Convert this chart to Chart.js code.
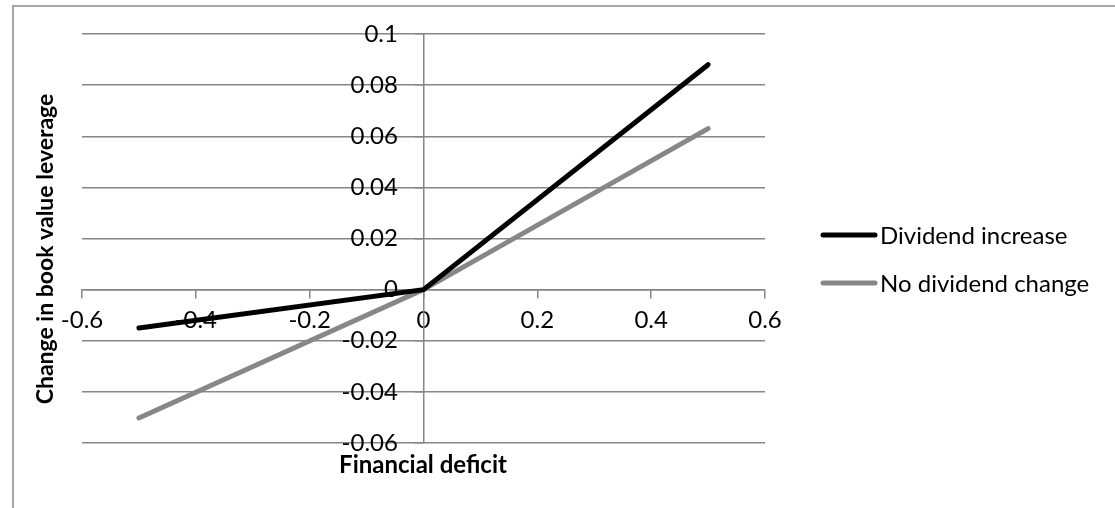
<!DOCTYPE html>
<html lang="en">
<head>
    <meta charset="UTF-8">
    <title>Change in book value leverage</title>
    <script src="https://cdn.jsdelivr.net/npm/chart.js"></script>
    <style>
        body { margin: 0; background: #fff; }
        .frame { position: absolute; left: 12px; top: 5px; width: 1200px; height: 600px; border-left: 2px solid #a6a6a6; border-top: 2px solid #a6a6a6; }
    </style>
</head>
<body>
    <div class="frame"></div>
    <canvas id="chart" width="1115" height="508" style="position:absolute;left:0;top:0"></canvas>
    <script>
        // data
        var deficit = [-0.5, 0, 0.5];
        var dividendIncrease = [-0.015, 0, 0.088];
        var noDividendChange = [-0.0502, 0, 0.063];
        var seriesNames = ['Dividend increase', 'No dividend change'];
        var xTitle = 'Financial deficit';
        var yTitle = 'Change in book value leverage';

        var FONT = 'Lato, "Liberation Sans", sans-serif';

        function pts(ys) {
            return deficit.map(function (x, i) { return { x: x, y: ys[i] }; });
        }

        // legend + axis titles drawn by hand, Excel style
        var extras = {
            id: 'extras',
            afterDraw: function (chart) {
                var c = chart.ctx;
                c.save();
                c.fillStyle = '#000';
                c.textAlign = 'center';
                c.textBaseline = 'middle';
                c.font = 'bold 24px ' + FONT;
                c.fillText(xTitle, 423, 465);
                c.font = 'bold 23px ' + FONT;
                c.translate(46, 249);
                c.rotate(-Math.PI / 2);
                c.fillText(yTitle, 0, 0);
                c.restore();

                c.save();
                c.font = '24px ' + FONT;
                c.textBaseline = 'middle';
                chart.data.datasets.forEach(function (ds, i) {
                    var y = 235 + i * 48;
                    c.strokeStyle = ds.borderColor;
                    c.lineWidth = ds.borderWidth;
                    c.lineCap = 'round';
                    c.beginPath();
                    c.moveTo(823, y);
                    c.lineTo(875, y);
                    c.stroke();
                    c.fillStyle = '#000';
                    c.fillText(ds.label, 880, y + 1);
                });
                c.restore();
            }
        };

        var fmt = function (v) { return String(+v.toFixed(2)); };
        var tickFont = { size: 24, family: FONT };

        new Chart(document.getElementById('chart'), {
            type: 'scatter',
            data: {
                datasets: [{
                    label: seriesNames[0],
                    data: pts(dividendIncrease),
                    showLine: true,
                    borderColor: '#000000',
                    backgroundColor: '#000000',
                    borderWidth: 5,
                    borderCapStyle: 'round',
                    pointRadius: 0
                }, {
                    label: seriesNames[1],
                    data: pts(noDividendChange),
                    showLine: true,
                    borderColor: '#878787',
                    backgroundColor: '#878787',
                    borderWidth: 5,
                    borderCapStyle: 'round',
                    pointRadius: 0
                }]
            },
            options: {
                responsive: false,
                animation: false,
                layout: { padding: { left: 82, right: 350, top: 34, bottom: 65 } },
                plugins: { legend: { display: false }, tooltip: { enabled: false } },
                scales: {
                    x: {
                        type: 'linear',
                        position: { y: 0 },
                        min: -0.6, max: 0.6,
                        ticks: { stepSize: 0.2, callback: fmt, color: '#000', font: tickFont, maxRotation: 0, padding: 8 },
                        grid: { drawOnChartArea: false, drawTicks: true, tickLength: 8, color: '#868686', lineWidth: 1.5 },
                        border: { color: '#868686', width: 1.5 }
                    },
                    y: {
                        type: 'linear',
                        position: { x: 0 },
                        min: -0.06, max: 0.1,
                        ticks: { display: false, stepSize: 0.02 },
                        grid: { drawOnChartArea: true, drawTicks: true, tickLength: 8, color: '#868686', lineWidth: 1.5 },
                        border: { color: '#868686', width: 1.5 }
                    },
                    // label-only copy of the value axis, set left of the zero line like Excel
                    yLabels: {
                        type: 'linear',
                        axis: 'y',
                        position: { x: -0.045 },
                        min: -0.06, max: 0.1,
                        ticks: { stepSize: 0.02, callback: fmt, color: '#000', font: tickFont },
                        grid: { display: false },
                        border: { display: false }
                    }
                }
            },
            plugins: [extras]
        });
    </script>
</body>
</html>
